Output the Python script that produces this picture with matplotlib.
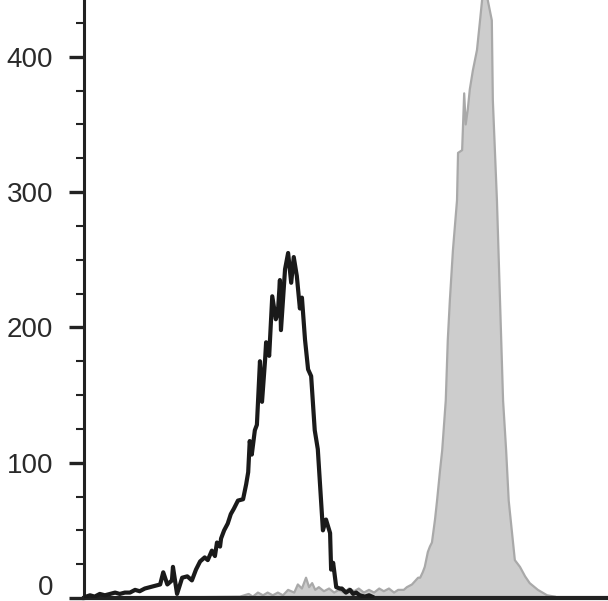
import matplotlib.pyplot as plt
import matplotlib.transforms as mtransforms
from matplotlib.ticker import MultipleLocator

# stained sample (open black trace): channel, count
stained_ch = [4, 12, 21, 31, 41, 51, 61, 70, 80, 90, 100, 109, 119, 129, 139,
              149, 155, 163, 172, 174, 182, 192, 202, 211, 219, 227, 236, 242,
              250, 256, 260, 266, 268, 274, 281, 287, 293, 301, 311, 317, 321,
              324, 328, 334, 338, 344, 348, 354, 356, 362, 368, 375, 379, 383,
              385, 393, 399, 405, 410, 416, 422, 426, 432, 438, 444, 451, 457,
              467, 473, 481, 483, 487, 493, 500, 504, 512, 520, 526, 532, 539,
              549, 557, 563]
stained_counts = [1, 2, 1, 3, 2, 3, 4, 3, 4, 4, 6, 5, 7, 8, 9,
                  10, 19, 10, 13, 23, 3, 15, 16, 13, 21, 27, 30, 28,
                  35, 31, 41, 38, 44, 50, 55, 62, 66, 72, 73, 84, 93,
                  116, 106, 124, 128, 175, 145, 176, 189, 179, 223, 206, 211, 235,
                  198, 243, 255, 233, 252, 238, 214, 222, 191, 169, 164, 124, 110,
                  50, 58, 48, 21, 26, 8, 7, 7, 4, 6, 3, 4, 2,
                  1, 2, 1]

# control sample (filled grey): channel, count
control_ch = [90, 305, 322, 330, 340, 350, 359, 369, 379, 389, 399, 411, 418,
              426, 434, 440, 446, 452, 459, 469, 479, 489, 498, 508, 518, 528,
              537, 547, 557, 567, 577, 586, 596, 606, 614, 625, 631, 641, 653,
              657, 662, 666, 672, 676, 680, 686, 690, 696, 700, 707, 711, 715,
              721, 729, 731, 739, 743, 746, 750, 754, 760, 768, 774, 778, 784,
              789, 797, 799, 803, 807, 813, 819, 825, 830, 836, 842, 852, 862,
              871, 887, 905, 920]
control_counts = [0, 1, 3, 1, 4, 2, 4, 2, 4, 2, 6, 4, 10, 7, 15,
                  8, 11, 6, 8, 5, 7, 4, 6, 4, 7, 5, 7, 4, 6, 4, 7,
                  5, 7, 4, 6, 6, 8, 10, 15, 15, 19, 23, 34, 38, 41, 58, 72,
                  95, 109, 146, 191, 220, 257, 294, 329, 331, 373, 350, 361,
                  376, 390, 405, 427, 442, 450, 442, 427, 368, 331, 294, 220,
                  146, 109, 72, 50, 28, 23, 16, 11, 6, 2, 1]

fig = plt.figure(figsize=(6.08, 6.01), dpi=100)
ax = fig.add_axes([0.138, 0.005, 0.862, 0.995])

ax.fill_between(control_ch, control_counts, 0, color="#cdcdcd", lw=0, zorder=1)
ax.plot(control_ch, control_counts, color="#a9a9a9", lw=1.6, zorder=2)
ax.plot(stained_ch, stained_counts, color="#1a1a1a", lw=3.0, zorder=3)

ax.set_xlim(0, 1024)
ax.set_ylim(0, 442)

ax.spines["top"].set_visible(False)
ax.spines["right"].set_visible(False)
ax.spines["left"].set_linewidth(2.2)
ax.spines["bottom"].set_linewidth(3.0)
ax.spines["left"].set_color("#222222")
ax.spines["bottom"].set_color("#222222")

ax.set_xticks([])
ax.set_yticks([0, 100, 200, 300, 400])
ax.yaxis.set_minor_locator(MultipleLocator(25))
ax.tick_params(axis="y", which="major", direction="out", length=11, width=2.4,
               color="#222222", pad=11, labelsize=20, labelcolor="#2a2a2a")
ax.tick_params(axis="y", which="minor", direction="out", length=5.5, width=1.5,
               color="#222222")
for lab in ax.get_yticklabels():
    lab.set_family(["Liberation Sans", "DejaVu Sans"])

# lift the "0" label off the x axis
fig.canvas.draw()
for tick in ax.yaxis.get_major_ticks():
    if tick.get_loc() == 0:
        lab = tick.label1
        lab.set_transform(lab.get_transform() +
                          mtransforms.ScaledTranslation(0, 13 / 100, fig.dpi_scale_trans))

fig.savefig("out.png", dpi=100)
